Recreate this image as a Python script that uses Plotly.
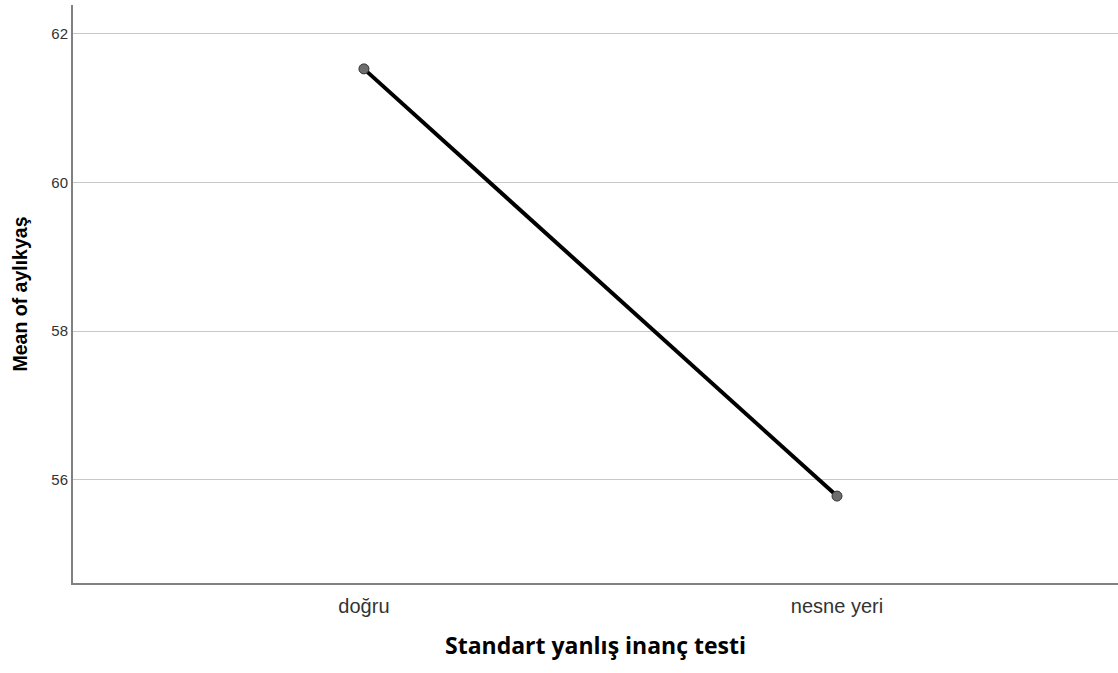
import plotly.graph_objects as go

categories = ["doğru", "nesne yeri"]
means = [61.53, 55.78]
y_ticks = [56, 58, 60, 62]


def main():
    fig = go.Figure()
    fig.add_trace(go.Scatter(
        x=[0, 1], y=means, mode="lines+markers",
        line=dict(color="black", width=4),
        marker=dict(size=10, color="#6e6e6e", line=dict(color="#333333", width=1)),
        showlegend=False,
    ))

    fig.update_layout(
        width=1118, height=673,
        margin=dict(l=73, r=0, t=5, b=90),
        plot_bgcolor="white", paper_bgcolor="white",
        font=dict(family="Liberation Sans, Arial", color="#222222"),
    )
    fig.update_xaxes(
        range=[-0.615, 1.594],
        tickvals=[0, 1], ticktext=categories,
        tickfont=dict(size=20, color="#333333"),
        showgrid=False, zeroline=False,
        showline=True, linecolor="#808080", linewidth=2,
        ticks="", ticklen=0, ticklabelstandoff=4,
        title=dict(text="<b>Standart yanlış inanç testi</b>",
                   font=dict(family="Open Sans", size=23, color="black"),
                   standoff=22),
    )
    fig.update_yaxes(
        range=[54.61, 62.39],
        tickvals=y_ticks,
        tickfont=dict(size=15, color="#333333"),
        showgrid=True, gridcolor="#c8c8c8", gridwidth=1,
        zeroline=False,
        showline=True, linecolor="#808080", linewidth=2,
        ticks="", ticklen=0, ticklabelstandoff=0,
        title=dict(text="<b>Mean of aylıkyaş</b>",
                   font=dict(family="Liberation Sans, Arial", size=19.5, color="black"),
                   standoff=18),
    )
    # drop the page's default body margin so the figure sits at the window origin
    fig.write_html("out.html", config={"displayModeBar": False},
                   post_script="document.body.style.margin='0';")


if __name__ == "__main__":
    main()
